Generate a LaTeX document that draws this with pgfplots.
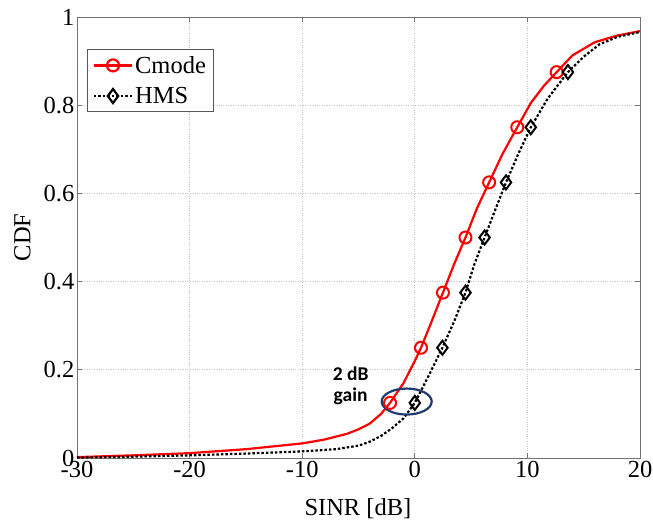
\documentclass[border=0pt]{standalone}
\usepackage{pgfplots}
\pgfplotsset{compat=1.18}
\usetikzlibrary{calc}
\usepackage{fontspec}
\setmainfont{Liberation Serif}
\newfontfamily\annfont{Carlito}
\definecolor{ellblue}{HTML}{1F3A6E}
\newcommand{\bigfont}{\fontsize{24.5}{28}\selectfont}
\begin{document}
\begin{tikzpicture}[font=\bigfont]
\begin{axis}[
  scale only axis,
  width=563pt, height=441pt,
  xmin=-30, xmax=20, ymin=0, ymax=1,
  xtick={-30,-20,-10,0,10,20},
  ytick={0,0.2,0.4,0.6,0.8,1},
  yticklabels={0,0.2,0.4,0.6,0.8,1},
  xticklabels={-30,-20,-10,0,10,20},
  /pgf/number format/assume math mode=true,
  tick label style={font=\bigfont},
  label style={font=\bigfont},
  yticklabel style={inner xsep=2.5pt},
  tick align=inside,
  tick pos=both,
  major tick length=5pt,
  axis line style={black!55, line width=0.8pt},
  tick style={black!55, line width=0.8pt},
  grid=major,
  major grid style={black!22, dotted, line width=0.7pt},
  xlabel={SINR [dB]},
  ylabel={CDF},
  xlabel style={at={(axis description cs:0.499,-0.1315)}, anchor=base},
  ylabel style={at={(axis description cs:-0.0968,0.5)}, anchor=center},
  legend style={font=\bigfont, at={(0.01776,0.9274)}, anchor=north west, draw=black!65, line width=0.8pt, inner xsep=5.5pt, inner ysep=0.5pt, row sep=0pt, nodes={inner ysep=6.25pt, inner xsep=2pt}},
  legend cell align=left,
  legend image code/.code={\draw[mark repeat=2,mark phase=2,#1] plot coordinates {(0pt,0pt) (19pt,0pt) (38pt,0pt)};},
]
\addplot[red, line width=2.2pt, forget plot] coordinates {
(-30,0.002) (-25,0.006) (-20,0.011) (-15,0.02) (-10,0.033) (-8,0.042) (-6,0.055) (-5,0.065) (-4,0.078) (-3,0.1) (-2.2,0.125) (-1,0.17) (0,0.22) (0.55,0.25) (1.5,0.31) (2.5,0.375) (3.5,0.44) (4.5,0.5) (5.5,0.565) (6.6,0.625) (7.8,0.69) (9.1,0.75) (10.3,0.805) (11.5,0.845) (12.6,0.875) (14,0.913) (16,0.943) (18,0.958) (20,0.968)};
\addplot[red, only marks, mark=o, mark size=6pt, line width=2pt, mark options={fill=white}, forget plot] coordinates {
(-2.2,0.125) (0.55,0.25) (2.5,0.375) (4.5,0.5) (6.6,0.625) (9.1,0.75) (12.6,0.875)};
\addplot[black, line width=2.2pt, dash pattern=on 2.5pt off 2pt, forget plot] coordinates {
(-30,0.001) (-25,0.003) (-20,0.006) (-15,0.01) (-10,0.015) (-7,0.02) (-5,0.028) (-4,0.037) (-3,0.05) (-2,0.068) (-1,0.09) (0,0.125) (1.2,0.185) (2.45,0.25) (3.5,0.31) (4.5,0.375) (5.3,0.44) (6.2,0.5) (7.1,0.56) (8.1,0.625) (9.2,0.69) (10.3,0.75) (11.8,0.815) (13.6,0.875) (15,0.91) (16.4,0.938) (18,0.955) (20,0.966)};
\addplot[black, only marks, mark=diamond, mark size=7pt, line width=2pt, mark options={fill=white, solid}, forget plot] coordinates {
(0,0.125) (2.45,0.25) (4.5,0.375) (6.2,0.5) (8.1,0.625) (10.3,0.75) (13.6,0.875)};
\addlegendimage{red, line width=2.2pt, mark=o, mark size=6pt, mark options={fill=white}}
\addlegendentry{Cmode}
\addlegendimage{black, line width=2.2pt, dash pattern=on 2.5pt off 2pt, mark=diamond, mark size=7pt, mark options={fill=white, solid}}
\addlegendentry{HMS}
\draw[ellblue, line width=2.2pt] (axis cs:-0.72,0.128) ellipse [x radius=25pt, y radius=13pt];
\node[font=\annfont\bfseries\fontsize{19.5}{21}\selectfont, align=center] at (axis cs:-5.7,0.163) {2 dB\\gain};
\end{axis}
\pgfresetboundingbox
\path ($(current axis.south west)+(-77pt,-64pt)$) rectangle ($(current axis.north east)+(13pt,17pt)$);
\end{tikzpicture}
\end{document}
